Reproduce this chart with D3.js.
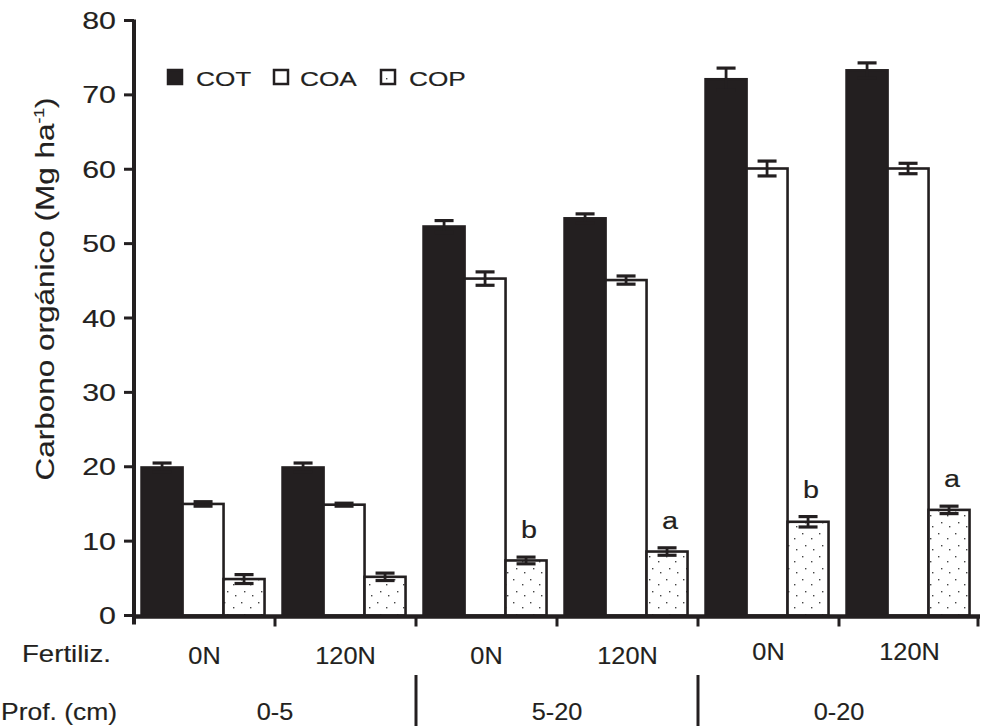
<!DOCTYPE html>
<html><head><meta charset="utf-8">
<script src="https://cdn.jsdelivr.net/npm/d3@7"></script>
<style>
html,body{margin:0;padding:0;background:#fff;}
svg{display:block;}
text{font-family:"Liberation Sans",Arial,Helvetica,sans-serif;fill:#231f20;stroke:#231f20;stroke-width:0.15px;}
</style></head><body>
<svg id="chart" width="982" height="728"></svg>
<script>
// ---- data ----
const fertiliz = ["0N","120N","0N","120N","0N","120N"];
const depths = ["0-5","5-20","0-20"];
const series = ["COT","COA","COP"];
const cotValues = [19.9, 19.9, 52.3, 53.4, 72.1, 73.3];
const cotErrors = [0.6, 0.6, 0.8, 0.6, 1.5, 1.0];
const coaValues = [15.0, 14.9, 45.3, 45.1, 60.1, 60.1];
const coaErrors = [0.3, 0.2, 0.9, 0.55, 1.0, 0.7];
const copValues = [4.9, 5.2, 7.4, 8.6, 12.6, 14.2];
const copErrors = [0.6, 0.5, 0.45, 0.5, 0.7, 0.5];
const copLetters = ["", "", "b", "a", "b", "a"];
const yTicks = [0, 10, 20, 30, 40, 50, 60, 70, 80];
const yTitleMain = "Carbono orgánico (Mg ha";
const yTitleSup = "-1";
const rowLabels = ["Fertiliz.", "Prof. (cm)"];

// ---- chart ----
const ink = "#231f20";
const svg = d3.select("#chart");
const defs = svg.append("defs");
const pat = defs.append("pattern").attr("id", "stip").attr("patternUnits", "userSpaceOnUse")
  .attr("width", 17).attr("height", 23);
pat.append("rect").attr("width", 17).attr("height", 23).attr("fill", "#fff");
[[3,4],[12,9],[6,16],[14,20]].forEach(p =>
  pat.append("rect").attr("x", p[0]).attr("y", p[1]).attr("width", 1.4).attr("height", 1.4).attr("fill", "#444"));

const valuesBy = {COT: cotValues, COA: coaValues, COP: copValues};
const errorsBy = {COT: cotErrors, COA: coaErrors, COP: copErrors};
const fillBy = {COT: ink, COA: "#fff", COP: "url(#stip)"};

const x0 = d3.scaleBand().domain(d3.range(fertiliz.length)).range([134, 980]).paddingInner(0).paddingOuter(0);
const x1 = d3.scaleBand().domain(series).range([0, x0.bandwidth()]).paddingInner(0).paddingOuter(0.22).align(0.42);
const xDepth = d3.scaleBand().domain(depths).range([134, 980]);
const y = d3.scaleLinear().domain([0, 80]).range([615.5, 20.5]);

const data = [];
fertiliz.forEach((f, i) => series.forEach(s => data.push({
  i, s, v: valuesBy[s][i], e: errorsBy[s][i]
})));

// bars
svg.append("g").selectAll("rect").data(data).join("rect")
  .attr("x", d => x0(d.i) + x1(d.s))
  .attr("y", d => y(d.v))
  .attr("width", x1.bandwidth())
  .attr("height", d => y(0) - y(d.v))
  .attr("fill", d => fillBy[d.s])
  .attr("stroke", ink)
  .attr("stroke-width", 2.6);

// error bars
const eg = svg.append("g").attr("stroke", ink);
data.forEach(d => {
  const cx = x0(d.i) + x1(d.s) + x1.bandwidth() / 2;
  const hw = 9.5;
  eg.append("line").attr("x1", cx).attr("x2", cx).attr("y1", y(d.v - d.e)).attr("y2", y(d.v + d.e)).attr("stroke-width", 2.8);
  eg.append("line").attr("x1", cx - hw).attr("x2", cx + hw).attr("y1", y(d.v + d.e)).attr("y2", y(d.v + d.e)).attr("stroke-width", 3.2);
  eg.append("line").attr("x1", cx - hw).attr("x2", cx + hw).attr("y1", y(d.v - d.e)).attr("y2", y(d.v - d.e)).attr("stroke-width", 3.2);
});

// significance letters
copLetters.forEach((l, i) => {
  if (!l) return;
  const cx = x0(i) + x1("COP") + x1.bandwidth() / 2 + 3;
  svg.append("text").attr("transform", `translate(${cx},${y(copValues[i] + copErrors[i]) - 19}) scale(1.25,1)`)
    .attr("text-anchor", "middle").attr("font-size", 23).text(l);
});

// y axis
svg.append("line").attr("x1", 134).attr("x2", 134).attr("y1", y(80) - 1).attr("y2", y(0) + 9)
  .attr("stroke", ink).attr("stroke-width", 4);
const yt = svg.append("g");
yTicks.forEach(t => {
  yt.append("line").attr("x1", 124).attr("x2", 134).attr("y1", y(t)).attr("y2", y(t)).attr("stroke", ink).attr("stroke-width", 3);
  yt.append("text").attr("transform", `translate(116,${y(t) + 8.5}) scale(1.32,1)`)
    .attr("text-anchor", "end").attr("font-size", 23).text(t);
});

// x axis
svg.append("line").attr("x1", 132).attr("x2", 980).attr("y1", y(0) + 1).attr("y2", y(0) + 1)
  .attr("stroke", ink).attr("stroke-width", 4.5);
d3.range(1, fertiliz.length + 1).forEach(i => {
  const xx = i < fertiliz.length ? x0(i) : x0.range()[1] - 2;
  svg.append("line").attr("x1", xx).attr("x2", xx).attr("y1", y(0)).attr("y2", y(0) + 11).attr("stroke", ink).attr("stroke-width", 3);
});

// y title
const yTitle = svg.append("text").attr("transform", "translate(54,289) rotate(-90) scale(1.26,1)")
  .attr("text-anchor", "middle").attr("font-size", 25);
yTitle.append("tspan").text(yTitleMain);
yTitle.append("tspan").attr("font-size", 14).attr("dy", -10).text(yTitleSup);
yTitle.append("tspan").attr("dy", 10).text(")");

// legend
const legX = [168, 274, 381];
const legTextX = [196, 300, 409];
series.forEach((s, k) => {
  svg.append("rect").attr("x", legX[k]).attr("y", 70).attr("width", 14).attr("height", 14)
    .attr("fill", fillBy[s]).attr("stroke", ink).attr("stroke-width", 2.5);
  svg.append("text").attr("transform", `translate(${legTextX[k]},86) scale(1.25,1)`)
    .attr("font-size", 21).text(s);
});

// bottom labels
svg.append("text").attr("transform", "translate(22,662) scale(1.2,1)").attr("font-size", 23).text(rowLabels[0]);
svg.append("text").attr("transform", "translate(1,720) scale(1.15,1)").attr("font-size", 23).text(rowLabels[1]);
fertiliz.forEach((f, i) => {
  svg.append("text").attr("transform", `translate(${x0(i) + x0.bandwidth() / 2},${i >= 4 ? 660 : 664}) scale(1.1,1)`)
    .attr("text-anchor", "middle").attr("font-size", 23).text(f);
});
depths.forEach(dp => {
  svg.append("text").attr("transform", `translate(${xDepth(dp) + xDepth.bandwidth() / 2},720) scale(1.1,1)`)
    .attr("text-anchor", "middle").attr("font-size", 23).text(dp);
});
[1, 2].forEach(k => {
  const xx = xDepth(depths[k]);
  svg.append("line").attr("x1", xx).attr("x2", xx).attr("y1", 675).attr("y2", 726).attr("stroke", ink).attr("stroke-width", 3);
});
</script>
</body></html>
